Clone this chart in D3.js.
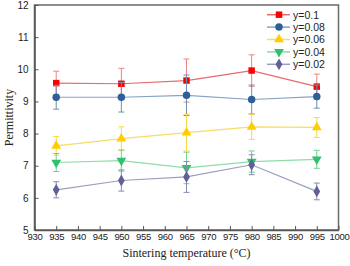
<!DOCTYPE html>
<html><head><meta charset="utf-8">
<script src="https://cdn.jsdelivr.net/npm/d3@7"></script>
<style>body{margin:0;background:#fff}svg{display:block}</style>
</head><body>
<svg id="c" width="350" height="266"></svg>
<script>
const temps = [935, 950, 965, 980, 995];
const seriesNames = ["y=0.1", "y=0.08", "y=0.06", "y=0.04", "y=0.02"];
const y01  = [9.57, 9.55, 9.65, 9.96, 9.46];
const y008 = [9.13, 9.13, 9.19, 9.06, 9.15];
const y006 = [7.62, 7.84, 8.03, 8.21, 8.19];
const y004 = [7.10, 7.16, 6.93, 7.13, 7.20];
const y002 = [6.25, 6.54, 6.65, 7.03, 6.20];
const e01  = [0.37, 0.48, 0.67, 0.49, 0.39];
const e008 = [0.37, 0.46, 0.63, 0.45, 0.36];
const e006 = [0.29, 0.37, 0.57, 0.39, 0.31];
const e004 = [0.28, 0.33, 0.49, 0.33, 0.28];
const e002 = [0.25, 0.33, 0.48, 0.31, 0.26];
const xTicks = d3.range(930, 1001, 5);
const yTicks = [5, 6, 7, 8, 9, 10, 11, 12];

const styles = [
  {marker: "square", fill: "#ff0000", line: "#e86a6a", err: "#f08080"},
  {marker: "circle", fill: "#2f5f98", line: "#86a3c3", err: "#6f8fb5"},
  {marker: "triangle", fill: "#ffcc00", line: "#f7dc6a", err: "#f8d848"},
  {marker: "triangleDown", fill: "#2fc26a", line: "#8fdcaa", err: "#70d090"},
  {marker: "diamond", fill: "#5f5f9a", line: "#9c9cc0", err: "#8a8ab5"}
];
const values = [y01, y008, y006, y004, y002];
const errs = [e01, e008, e006, e004, e002];

const svg = d3.select("#c");
const m = {l: 34.5, r: 338.5, t: 5, b: 230};
const x = d3.scaleLinear().domain([930, 1000]).range([m.l, m.r]);
const y = d3.scaleLinear().domain([5, 12]).range([m.b, m.t]);

svg.append("rect").attr("x", m.l).attr("y", m.t).attr("width", m.r - m.l).attr("height", m.b - m.t)
  .attr("fill", "none").attr("stroke", "#6a6a6a").attr("stroke-width", 1.5);

const gx = svg.append("g").attr("transform", `translate(0,${m.b})`)
  .call(d3.axisBottom(x).tickValues(xTicks).tickSizeInner(-4).tickSizeOuter(0).tickPadding(3).tickFormat(d3.format("d")));
const gy = svg.append("g").attr("transform", `translate(${m.l},0)`)
  .call(d3.axisLeft(y).tickValues(yTicks).tickSizeInner(-4).tickSizeOuter(0).tickPadding(6).tickFormat(d3.format("d")));
[gx, gy].forEach(g => {
  g.select(".domain").attr("stroke", "#555").attr("stroke-width", 1.5);
  g.selectAll(".tick line").attr("stroke", "#555").attr("stroke-width", 1);
  g.selectAll(".tick text").attr("fill", "#222").attr("font-family", "Liberation Sans, Arial, sans-serif").attr("font-size", 10);
});
gx.selectAll(".tick text").attr("font-size", 9.5).attr("letter-spacing", -0.3);
gx.selectAll(".tick text").filter(d => d === 1000).attr("text-anchor", "end").attr("dx", 10.5);

svg.append("text").attr("x", (m.l + m.r) / 2).attr("y", 257).attr("text-anchor", "middle")
  .attr("font-family", "Liberation Serif, Times New Roman, serif").attr("font-size", 12).attr("fill", "#222")
  .text("Sintering temperature (°C)");
svg.append("text").attr("transform", `translate(13,${(m.t + m.b) / 2}) rotate(-90)`).attr("text-anchor", "middle")
  .attr("font-family", "Liberation Serif, Times New Roman, serif").attr("font-size", 12).attr("fill", "#222")
  .text("Permittivity");

const symType = {square: d3.symbolSquare, circle: d3.symbolCircle, triangle: d3.symbolTriangle, triangleDown: d3.symbolTriangle, diamond: d3.symbolDiamond};
function drawMarker(g, st, cx, cy) {
  const size = st.marker === "diamond" ? 40 : (st.marker === "square" ? 42 : (st.marker === "circle" ? 44 : 42));
  const p = g.append("path").attr("d", d3.symbol().type(symType[st.marker]).size(size)())
    .attr("fill", st.fill);
  p.attr("transform", `translate(${cx},${cy})` + (st.marker === "triangleDown" ? " rotate(180)" : ""));
}

values.forEach((vals, si) => {
  const st = styles[si];
  const g = svg.append("g");
  vals.forEach((v, i) => {
    const cx = x(temps[i]);
    const e = errs[si][i];
    g.append("line").attr("x1", cx).attr("x2", cx).attr("y1", y(v - e)).attr("y2", y(v + e)).attr("stroke", st.err).attr("stroke-width", 1);
    [v - e, v + e].forEach(t => g.append("line").attr("x1", cx - 3).attr("x2", cx + 3).attr("y1", y(t)).attr("y2", y(t)).attr("stroke", st.err).attr("stroke-width", 1));
  });
  g.append("path").datum(vals).attr("fill", "none").attr("stroke", st.line).attr("stroke-width", 1.2)
    .attr("d", d3.line().x((d, i) => x(temps[i])).y(d => y(d)));
  vals.forEach((v, i) => drawMarker(g, st, x(temps[i]), y(v)));
});

const lg = svg.append("g");
seriesNames.forEach((name, i) => {
  const ly = 14.7 + i * 12.4;
  const st = styles[i];
  lg.append("line").attr("x1", 267).attr("x2", 290).attr("y1", ly).attr("y2", ly).attr("stroke", st.line).attr("stroke-width", 1.5);
  drawMarker(lg, st, 279, ly);
  lg.append("text").attr("x", 293).attr("y", ly + 3.8).attr("font-family", "Liberation Sans, Arial, sans-serif")
    .attr("font-size", 10.5).attr("fill", "#222").text(name);
});
</script>
</body></html>
